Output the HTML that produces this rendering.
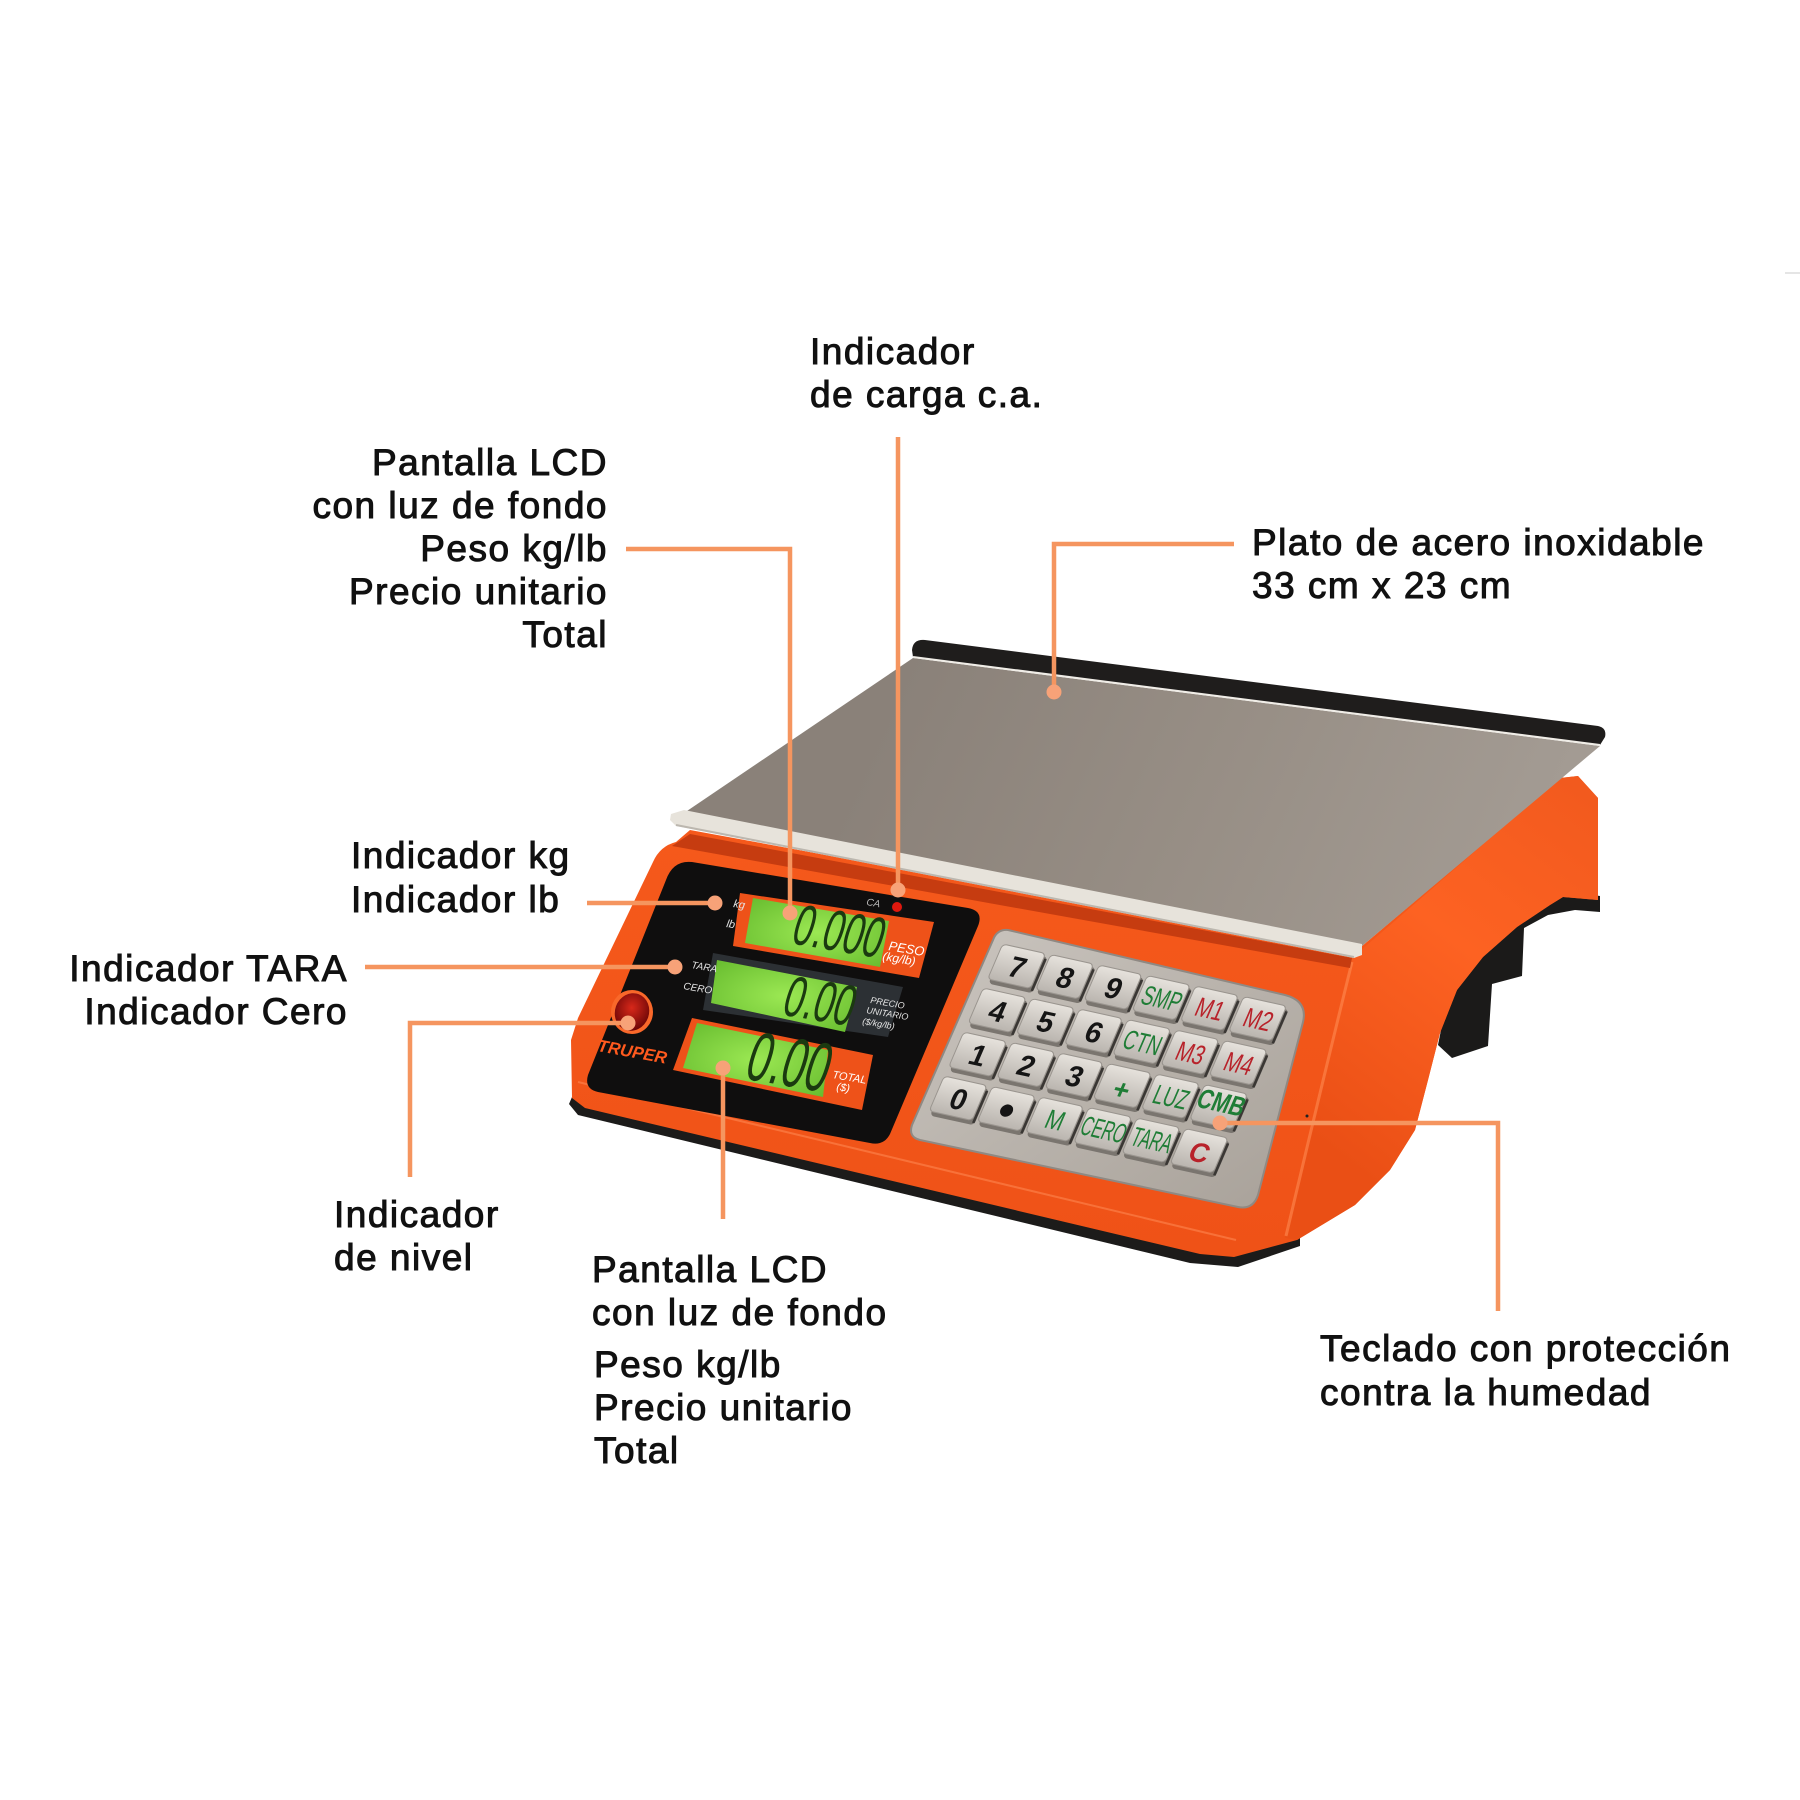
<!DOCTYPE html>
<html><head><meta charset="utf-8">
<style>
html,body{margin:0;padding:0;background:#fff;}
svg{display:block;}
.lb{font-family:"Liberation Sans",Arial,sans-serif;font-size:37px;letter-spacing:1.5px;fill:#111;stroke:#111;stroke-width:1px;}
.kd{font-family:"Liberation Sans",Arial,sans-serif;font-size:28px;font-weight:bold;fill:#151515;text-anchor:middle;}
.kl{font-family:"Liberation Sans",Arial,sans-serif;font-size:26px;text-anchor:middle;}
.g{fill:#1f7d36;}
.r{fill:#b8222a;}
.sm{font-family:"Liberation Sans",Arial,sans-serif;font-style:italic;fill:#e4e4e4;}
.dg{font-family:"Liberation Sans",Arial,sans-serif;fill:#1b3a10;text-anchor:end;}
</style></head><body>
<svg width="1800" height="1800" viewBox="0 0 1800 1800" xmlns="http://www.w3.org/2000/svg">
<defs>
 <linearGradient id="plate" x1="913" y1="653" x2="1500" y2="920" gradientUnits="userSpaceOnUse">
   <stop offset="0" stop-color="#8a8179"/><stop offset="0.5" stop-color="#978e85"/><stop offset="1" stop-color="#a39b93"/>
 </linearGradient>
 <linearGradient id="side" x1="1330" y1="1150" x2="1600" y2="800" gradientUnits="userSpaceOnUse">
   <stop offset="0" stop-color="#ea4f15"/><stop offset="0.55" stop-color="#fd6222"/><stop offset="1" stop-color="#f25a1e"/>
 </linearGradient>
 <linearGradient id="front" x1="0" y1="0" x2="0" y2="1">
   <stop offset="0" stop-color="#f65a1c"/><stop offset="1" stop-color="#ef5217"/>
 </linearGradient>
 <linearGradient id="steel" x1="0" y1="0" x2="1" y2="1">
   <stop offset="0" stop-color="#cbc6c0"/><stop offset="0.5" stop-color="#b9b3ac"/><stop offset="1" stop-color="#a8a199"/>
 </linearGradient>
 <linearGradient id="key" x1="0" y1="0" x2="0" y2="1">
   <stop offset="0" stop-color="#e6e2dc"/><stop offset="1" stop-color="#bab5af"/>
 </linearGradient>
 <radialGradient id="lcd" cx="0.5" cy="0.5" r="0.7">
   <stop offset="0" stop-color="#9be853"/><stop offset="1" stop-color="#66bb2e"/>
 </radialGradient>
 <radialGradient id="bub" cx="0.45" cy="0.4" r="0.6">
   <stop offset="0" stop-color="#d8281a"/><stop offset="1" stop-color="#6e0707"/>
 </radialGradient>
 <g id="k">
   <rect x="-20" y="-16" width="44" height="36" rx="4" fill="#7a756f"/>
   <rect x="-22.5" y="-19" width="43" height="35" rx="4" fill="url(#key)" stroke="#9a958f" stroke-width="1"/>
   <line x1="22.5" y1="-14" x2="22.5" y2="18" stroke="#3a3734" stroke-width="2.5"/>
 </g>
</defs>

<!-- faint top-right line -->
<line x1="1785" y1="273" x2="1800" y2="273" stroke="#dcdcdc" stroke-width="1.5"/>

<!-- black underside / feet -->
<polygon fill="#1b1a19" points="1555,890 1600,896 1600,912 1575,910 1548,915 1524,928 1522,976 1492,984 1488,1046 1452,1058 1438,1045 1445,1010 1470,968 1510,924"/>
<!-- black base strip -->
<polygon fill="#1c1b1a" points="575,1090 1234,1249 1300,1234 1300,1246 1238,1267 1190,1263 578,1115 569,1104"/>

<!-- orange body -->
<path fill="url(#front)" d="M653,862 Q660,846 676,842 L690,830 L1355,952 L1560,778 L1578,776 L1598,798 L1598,900 L1563,897 L1550,905 L1517,927 L1483,957 L1457,990 L1440,1033 L1428,1080 L1415,1130 L1390,1170 L1355,1205 L1297,1240 L1234,1257 L1200,1254 L585,1108 L572,1098 L571,1040 L578,1018 Z"/>
<!-- side face -->
<path fill="url(#side)" d="M1352,958 L1560,778 L1578,776 L1598,798 L1598,900 L1563,897 L1550,905 L1517,927 L1483,957 L1457,990 L1440,1033 L1428,1080 L1415,1130 L1390,1170 L1355,1205 L1297,1240 L1285,1238 Q1318,1100 1352,958 Z"/>
<path d="M1352,962 Q1318,1100 1286,1236" stroke="#ff8a52" stroke-width="3" fill="none" opacity="0.6"/>
<!-- dark band under lip -->
<path d="M672,846 L690,834 L1352,958 L1350,968 Z" fill="#c63c10"/>
<!-- ledge highlight -->
<path d="M578,1082 L1236,1240" stroke="#ff8a55" stroke-width="2" opacity="0.55" fill="none"/>

<!-- black display panel -->
<path fill="#0f0e0e" d="M692,862 L968,908 Q984,911 978,926 L890,1134 Q884,1146 870,1143 L598,1092 Q584,1089 588,1075 L666,880 Q673,860 692,862 Z"/>

<!-- LCD1 -->
<polygon fill="#ee5219" points="740,893 934,922 919,978 733,946"/>
<polygon fill="url(#lcd)" points="753,898 889,921 880,967 745,943"/>
<text class="dg" font-size="58" transform="translate(878,958) rotate(9.6) skewX(-8) scale(0.62,1)">0.000</text>
<!-- LCD2 -->
<polygon fill="#2c3034" points="713,953 903,987 888,1037 703,1010"/>
<polygon fill="url(#lcd)" points="717,960 857,987 845,1032 711,1003"/>
<text class="dg" font-size="58" transform="translate(849,1026) rotate(9.6) skewX(-8) scale(0.62,1)">0.00</text>
<!-- LCD3 -->
<polygon fill="#ee5219" points="692,1018 873,1055 862,1110 673,1070"/>
<polygon fill="url(#lcd)" points="697,1023 828,1050 823,1097 683,1068"/>
<text class="dg" font-size="70" transform="translate(823,1092) rotate(9.6) skewX(-8) scale(0.6,1)">0.00</text>

<!-- small panel labels -->
<g class="sm">
 <text font-size="11" transform="translate(733,907) rotate(9.6)">kg</text>
 <text font-size="11" transform="translate(726,927) rotate(9.6)">lb</text>
 <text font-size="10" transform="translate(691,968) rotate(9.6)">TARA</text>
 <text font-size="10" transform="translate(683,989) rotate(9.6)">CERO</text>
 <text font-size="10" fill="#bbb" transform="translate(866,905) rotate(9.6)">CA</text>
 <text font-size="13" style="fill:#fff" transform="translate(888,950) rotate(9.6)">PESO</text>
 <text font-size="12" style="fill:#fff" transform="translate(882,960) rotate(9.6)">(kg/lb)</text>
 <text font-size="9" transform="translate(870,1003) rotate(9.6)">PRECIO</text>
 <text font-size="9" transform="translate(866,1013) rotate(9.6)">UNITARIO</text>
 <text font-size="9" transform="translate(862,1024) rotate(9.6)">($/kg/lb)</text>
 <text font-size="11" style="fill:#fff" transform="translate(832,1078) rotate(9.6)">TOTAL</text>
 <text font-size="11" style="fill:#fff" transform="translate(836,1090) rotate(9.6)">($)</text>
</g>
<!-- CA LED -->
<circle cx="897" cy="907" r="7" fill="#111"/>
<circle cx="897" cy="907" r="5" fill="#e0180e"/>
<!-- level bubble -->
<ellipse cx="632" cy="1012" rx="21" ry="22" fill="#f9682a"/>
<ellipse cx="632" cy="1012" rx="17" ry="19" fill="url(#bub)" transform="rotate(20 632 1012)"/>
<!-- TRUPER -->
<text font-family="Liberation Sans, Arial, sans-serif" font-size="17" font-weight="bold" font-style="italic" fill="#ff5a1e" transform="translate(597,1051) rotate(10.5)">TRUPER</text>

<!-- keypad plate -->
<path fill="url(#steel)" stroke="#8f8983" stroke-width="2" d="M1008,930 L1285,995 Q1308,1001 1303,1022 L1258,1195 Q1253,1210 1238,1207 L920,1140 Q908,1137 912,1125 L993,940 Q997,929 1008,930 Z"/>

<!-- keys row 1 -->
<g transform="matrix(1,0.22,-0.43,1,1017,968)"><use href="#k"/><text class="kd" x="0" y="9">7</text></g>
<g transform="matrix(1,0.22,-0.43,1,1065,978.5)"><use href="#k"/><text class="kd" x="0" y="9">8</text></g>
<g transform="matrix(1,0.22,-0.43,1,1113.4,989)"><use href="#k"/><text class="kd" x="0" y="9">9</text></g>
<g transform="matrix(1,0.22,-0.43,1,1161.6,999.5)"><use href="#k"/><text class="kl g" transform="scale(0.68,1)" x="0" y="8">SMP</text></g>
<g transform="matrix(1,0.22,-0.43,1,1209.8,1010)"><use href="#k"/><text class="kl r" transform="scale(0.75,1)" x="0" y="8">M1</text></g>
<g transform="matrix(1,0.22,-0.43,1,1258,1020.5)"><use href="#k"/><text class="kl r" transform="scale(0.75,1)" x="0" y="8">M2</text></g>
<!-- row 2 -->
<g transform="matrix(1,0.22,-0.43,1,997.5,1012)"><use href="#k"/><text class="kd" x="0" y="9">4</text></g>
<g transform="matrix(1,0.22,-0.43,1,1045.7,1022.5)"><use href="#k"/><text class="kd" x="0" y="9">5</text></g>
<g transform="matrix(1,0.22,-0.43,1,1093.9,1033)"><use href="#k"/><text class="kd" x="0" y="9">6</text></g>
<g transform="matrix(1,0.22,-0.43,1,1142.1,1043.5)"><use href="#k"/><text class="kl g" transform="scale(0.68,1)" x="0" y="8">CTN</text></g>
<g transform="matrix(1,0.22,-0.43,1,1190.3,1054)"><use href="#k"/><text class="kl r" transform="scale(0.75,1)" x="0" y="8">M3</text></g>
<g transform="matrix(1,0.22,-0.43,1,1238.5,1064.5)"><use href="#k"/><text class="kl r" transform="scale(0.75,1)" x="0" y="8">M4</text></g>
<!-- row 3 -->
<g transform="matrix(1,0.22,-0.43,1,978,1056)"><use href="#k"/><text class="kd" x="0" y="9">1</text></g>
<g transform="matrix(1,0.22,-0.43,1,1026.2,1066.5)"><use href="#k"/><text class="kd" x="0" y="9">2</text></g>
<g transform="matrix(1,0.22,-0.43,1,1074.4,1077)"><use href="#k"/><text class="kd" x="0" y="9">3</text></g>
<g transform="matrix(1,0.22,-0.43,1,1122.6,1087.5)"><use href="#k"/><text class="kl g" font-size="36" font-weight="bold" x="0" y="11">+</text></g>
<g transform="matrix(1,0.22,-0.43,1,1170.8,1098)"><use href="#k"/><text class="kl g" transform="scale(0.68,1)" x="0" y="8">LUZ</text></g>
<g transform="matrix(1,0.22,-0.43,1,1219,1108.5)"><use href="#k"/><text class="kl g" font-size="19" font-weight="bold" transform="scale(0.78,1)" x="0" y="3">CMB</text></g>
<!-- row 4 -->
<g transform="matrix(1,0.22,-0.43,1,958.5,1100)"><use href="#k"/><text class="kd" x="0" y="9">0</text></g>
<g transform="matrix(1,0.22,-0.43,1,1006.7,1110.5)"><use href="#k"/><text class="kd" font-size="22" x="0" y="8">●</text></g>
<g transform="matrix(1,0.22,-0.43,1,1054.9,1121)"><use href="#k"/><text class="kl g" transform="scale(0.8,1)" x="0" y="8">M</text></g>
<g transform="matrix(1,0.22,-0.43,1,1103.1,1131.5)"><use href="#k"/><text class="kl g" font-size="22" transform="scale(0.58,1)" x="0" y="7">CERO</text></g>
<g transform="matrix(1,0.22,-0.43,1,1151.3,1142)"><use href="#k"/><text class="kl g" font-size="22" transform="scale(0.58,1)" x="0" y="7">TARA</text></g>
<g transform="matrix(1,0.22,-0.43,1,1199.5,1152.5)"><use href="#k"/><text class="kl r" font-size="28" font-weight="bold" x="0" y="9">C</text></g>

<circle cx="1307" cy="1116" r="1.5" fill="#222"/>

<!-- plate -->
<path fill="#1f1d1c" d="M912,650 Q913,639 925,640 L1598,726 Q1607,728 1605,737 L1600,745 L913,657 Z"/>
<polygon fill="url(#plate)" points="913,658 1600,746 1362,946 684,813"/>
<line x1="913" y1="657" x2="1600" y2="745" stroke="#f0ede7" stroke-width="2"/>
<polygon fill="#e7e3db" points="671,814 684,810 1362,944 1362,955 1354,958 676,826 670,820"/>
<line x1="676" y1="825" x2="1354" y2="957" stroke="#bcb7af" stroke-width="2"/>

<!-- connectors -->
<g stroke="#f5955f" stroke-width="4.5" fill="none">
 <path d="M898,437 L898,890"/>
 <path d="M626,549 L790,549 L790,913"/>
 <path d="M1234,544 L1054,544 L1054,692"/>
 <path d="M587,903 L715,903"/>
 <path d="M365,967 L675,967"/>
 <path d="M410,1177 L410,1023 L628,1023"/>
 <path d="M723,1068 L723,1219"/>
 <path d="M1220,1123 L1498,1123 L1498,1311"/>
</g>
<g fill="#f7a278">
 <circle cx="898" cy="890" r="7.5"/>
 <circle cx="790" cy="913" r="7.5"/>
 <circle cx="1054" cy="692" r="7.5"/>
 <circle cx="715" cy="903" r="7.5"/>
 <circle cx="675" cy="967" r="7.5"/>
 <circle cx="628" cy="1023" r="7.5"/>
 <circle cx="723" cy="1068" r="7.5"/>
 <circle cx="1220" cy="1123" r="7.5"/>
</g>

<!-- labels -->
<text class="lb" x="810" y="364">Indicador</text>
<text class="lb" x="810" y="407">de carga c.a.</text>

<g text-anchor="end">
<text class="lb" x="608" y="475">Pantalla LCD</text>
<text class="lb" x="608" y="518">con luz de fondo</text>
<text class="lb" x="608" y="561">Peso kg/lb</text>
<text class="lb" x="608" y="604">Precio unitario</text>
<text class="lb" x="608" y="647">Total</text>
</g>

<text class="lb" x="1252" y="555">Plato de acero inoxidable</text>
<text class="lb" x="1252" y="598">33 cm x 23 cm</text>

<text class="lb" x="351" y="868">Indicador kg</text>
<text class="lb" x="351" y="912">Indicador lb</text>

<g text-anchor="end">
<text class="lb" x="348" y="981">Indicador TARA</text>
<text class="lb" x="348" y="1024">Indicador Cero</text>
</g>

<text class="lb" x="334" y="1227">Indicador</text>
<text class="lb" x="334" y="1270">de nivel</text>

<text class="lb" x="592" y="1282">Pantalla LCD</text>
<text class="lb" x="592" y="1325">con luz de fondo</text>
<text class="lb" x="594" y="1377">Peso kg/lb</text>
<text class="lb" x="594" y="1420">Precio unitario</text>
<text class="lb" x="594" y="1463">Total</text>

<text class="lb" x="1320" y="1361">Teclado con protección</text>
<text class="lb" x="1320" y="1405">contra la humedad</text>
</svg>
</body></html>
